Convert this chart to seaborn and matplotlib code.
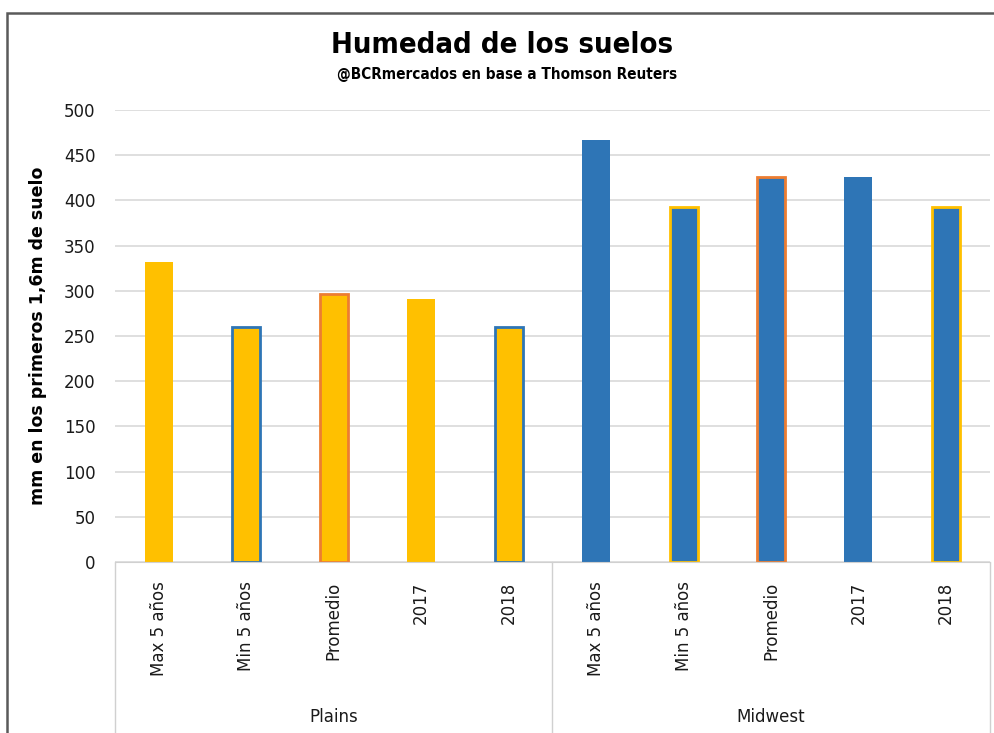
import pandas as pd
import numpy as np
import matplotlib.pyplot as plt
import seaborn as sns
from matplotlib.patches import Rectangle
from matplotlib.lines import Line2D

# ---- data ----
regions = ["Plains", "Midwest"]
categories = ["Max 5 años", "Min 5 años", "Promedio", "2017", "2018"]
plains_vals = [332, 260, 297, 291, 260]
midwest_vals = [467, 393, 426, 426, 393]

YELLOW = "#FFC000"
BLUE = "#2E75B6"
ORANGE = "#ED7D31"

sns.set_style("white")
plt.rcParams['font.family'] = ['DejaVu Sans']

df = pd.DataFrame({
    "region": np.repeat(regions, len(categories)),
    "cat": categories * 2,
    "val": plains_vals + midwest_vals,
})
df["key"] = [f"{r}|{c}" for r, c in zip(df["region"], df["cat"])]

fill = [YELLOW] * 5 + [BLUE] * 5
edges = [None, BLUE, ORANGE, None, BLUE,
         None, YELLOW, ORANGE, None, YELLOW]

fig = plt.figure(figsize=(9.95, 7.33), dpi=100)
ax = fig.add_axes([0.1156, 0.2333, 0.879, 0.6166])

sns.barplot(data=df, x="key", y="val", hue="key", palette=fill, width=0.32,
            legend=False, ax=ax, saturation=1)

for p, ec in zip(ax.patches, edges):
    if ec is not None:
        p.set_edgecolor(ec)
        p.set_linewidth(2.0)
    else:
        p.set_linewidth(0)

ax.set_ylim(0, 500)
ax.set_xlim(-0.5, 9.5)
ax.set_yticks(range(0, 501, 50))
ax.yaxis.grid(True, color="#D9D9D9", linewidth=1.2)
ax.set_axisbelow(True)
for s in ["left", "right", "top"]:
    ax.spines[s].set_visible(False)
ax.spines["bottom"].set_color("#D0D0D0")
ax.tick_params(axis="y", length=0, labelsize=12, pad=14, labelcolor="#1a1a1a")
ax.set_xticks(range(10))
ax.set_xticklabels(categories * 2, rotation=90, fontsize=12, color="#1a1a1a")
ax.tick_params(axis="x", length=0, pad=14)
ax.set_xlabel("")
ax.set_ylabel("mm en los primeros 1,6m de suelo", fontsize=12.5, fontweight="bold",
              labelpad=12, color="black")

# group separators and labels below axis
trans = ax.get_xaxis_transform()
for xs in [-0.5, 4.5, 9.5]:
    ax.add_line(Line2D([xs, xs], [0, -0.4], transform=trans, color="#D0D0D0",
                       linewidth=1, clip_on=False))
ax.text(2, -0.343, "Plains", transform=trans, ha="center", va="center", fontsize=12,
        color="#1a1a1a")
ax.text(7, -0.343, "Midwest", transform=trans, ha="center", va="center", fontsize=12,
        color="#1a1a1a")

fig.text(0.505, 0.938, "Humedad de los suelos", ha="center", va="center",
         fontsize=21, fontweight="heavy", fontstretch="condensed", color="black")
fig.text(0.510, 0.898, "@BCRmercados en base a Thomson Reuters", ha="center",
         va="center", fontsize=11, fontweight="bold", fontstretch="condensed",
         color="black")

# outer chart frame (only top and left visible in the crop)
fig.add_artist(Rectangle((0.007, -0.05), 1.1, 1.032, transform=fig.transFigure,
                         fill=False, edgecolor="#5A5A5A", linewidth=1.8))

fig.savefig("out.png", dpi=100)
